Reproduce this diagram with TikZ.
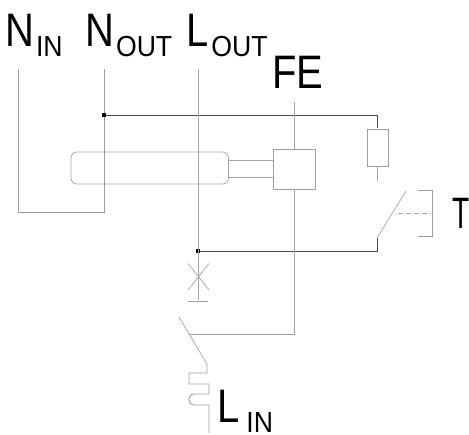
\documentclass[tikz,border=0pt]{standalone}
\usepackage{fontspec}
\setmainfont{Liberation Sans}[FakeStretch=0.85]
\usepackage{tikz}
\tikzset{
	wire/.style={draw=black!38, line width=0.9pt, line join=miter},
	thin wire/.style={draw=black!36, line width=0.7pt},
	bus/.style={draw=black!72, line width=0.8pt},
	dot/.style={fill=black, inner sep=0pt, minimum size=4.5pt},
	big/.style={anchor=base west, inner sep=0pt, font=\fontsize{47}{47}\selectfont},
}
\newcommand{\sublabel}[1]{\raisebox{-10pt}{\scalebox{1.08}[1]{\fontsize{29}{29}\selectfont #1}}}
\begin{document}
\begin{tikzpicture}[x=1pt, y=-1pt]
		\useasboundingbox (0,0) rectangle (469,435);
		% labels
		\node[big] (nin) at (5,47) {N\hspace{2pt}\sublabel{IN}};
		\node[big] (nout) at (85,47) {N\hspace{2pt}\sublabel{OUT}};
		\node[big] (lout) at (186,47) {L\hspace{3pt}\sublabel{OUT}};
		\node[big] (fe) at (272,89) {FE};
		\node[big, font=\fontsize{44}{44}\selectfont] (t) at (452,229) {\scalebox{0.75}[1]{T}};
		\node[big] (lin) at (217,423) {L\hspace{7pt}\sublabel{IN}};
		% neutral loop
		\coordinate (NI) at (18,69);
		\coordinate (NO) at (104,69);
		\coordinate (NJ) at (104,115);
		\draw[wire] (NI) -- (18,212) -- (104,212) -- (NO);
		\node[dot] (dotN) at (NJ) {};
		% test circuit
		\coordinate (R1) at (377,128);
		\coordinate (R2) at (377,166);
		\coordinate (R3) at (377,181);
		\coordinate (S1) at (377,238);
		\coordinate (S2) at (406,191);
		\coordinate (LJ) at (198,251);
		\node[dot] (dotL) at (LJ) {};
		\draw[bus] (dotN) -- (377,115) -- (R1);
		\draw[wire] (367,129) rectangle (388,166);
		\draw[wire] (R2) -- (R3);
		\draw[bus] (dotL) -- (377,251) -- (S1);
		\draw[thin wire] (S1) -- (S2);
		\draw[thin wire, dashed, dash pattern=on 5pt off 3pt] (398,213) -- (431,213);
		\draw[wire] (418,190) -- (432.5,190) -- (432.5,236) -- (418,236);
		% line conductor
		\coordinate (LO) at (198,69);
		\coordinate (LE) at (198,300);
		\draw[thin wire] (LO) -- (LE);
		\draw[thin wire] (188,263.5) -- (209,290);
		\draw[thin wire] (209,263.5) -- (188,290);
		\draw[wire] (188,301) -- (208,301);
		% sensing core
		\draw[thin wire, rounded corners=6pt] (71,152) rectangle (228.5,184);
		\draw[thin wire] (228.5,160) -- (273,160);
		\draw[thin wire] (228.5,177) -- (273,177);
		\draw[thin wire, draw=black!60] (273,160) -- (273,177);
		% earth conductor
		\node[draw=black!38, line width=0.8pt, minimum width=42pt, minimum height=40pt, inner sep=0pt] (relay) at (294,169) {};
		\coordinate (FT) at (294,102);
		\coordinate (FJ) at (189,334);
		\draw[wire] (FT) -- (relay.north);
		\draw[wire] (relay.south) -- (294,334) -- (FJ);
		% main contact and coil
		\coordinate (C1) at (179,317);
		\coordinate (C2) at (207,364);
		\coordinate (CE) at (209,433);
		\draw[thin wire] (C1) -- (C2);
		\draw[wire] (C2) -- (207,373) -- (189,373) -- (189,384) -- (209,384) -- (209,394)
		-- (194,394) to[out=180, in=180, looseness=1.6] (194,405) -- (209,405) -- (CE);
\end{tikzpicture}
\end{document}
